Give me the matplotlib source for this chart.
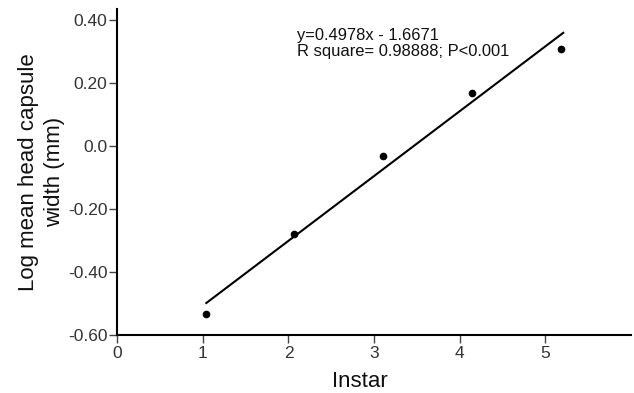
import numpy as np
from matplotlib import pyplot as plt

plt.rcParams['font.family'] = ['Liberation Sans', 'DejaVu Sans']

#%% data
instar = [1.04, 2.07, 3.10, 4.14, 5.18]
log_width = [-0.533, -0.279, -0.032, 0.170, 0.308]
fit_x = [1.04, 5.21]  #extent of the regression line

xticks = [0, 1, 2, 3, 4, 5]
yticks = [0.40, 0.20, 0.0, -0.20, -0.40, -0.60]
ytick_labels = ['0.40', '0.20', '0.0', '-0.20', '-0.40', '-0.60']

#%% regression line from the points
slope, icept = np.polyfit(instar, log_width, 1)
fx = np.array(fit_x)
fy = slope * fx + icept

#%% figure
fig = plt.figure(figsize=(6.34, 3.93), dpi=100)
ax = fig.add_axes([0.185, 0.1476, 0.81, 0.829])

ax.plot(fx, fy, color='black', lw=1.5)
ax.plot(instar, log_width, 'o', color='black', ms=4.5)

ax.set_xlim(0, 6)
ax.set_ylim(-0.60, 0.435)
ax.set_xticks(xticks)
ax.set_yticks(yticks)
ax.set_yticklabels(ytick_labels)

for s in ['top', 'right']:
    ax.spines[s].set_visible(False)
for s in ['left', 'bottom']:
    ax.spines[s].set_linewidth(1.5)
ax.tick_params(direction='out', length=6, width=1, labelsize=12.5,
               colors='#444444', labelcolor='#333333')
ax.tick_params(axis='x', pad=2)
ax.tick_params(axis='y', pad=1)

ax.set_xlabel('Instar', fontsize=16, color='#111111')
ax.xaxis.set_label_coords(0.472, -0.112)
ax.set_ylabel('Log mean head capsule\nwidth (mm)', fontsize=16, color='#111111',
              linespacing=1.35)
ax.yaxis.set_label_coords(-0.101, 0.5)

ax.text(2.10, 0.376, 'y=0.4978x - 1.6671\nR square= 0.98888; P<0.001',
        fontsize=11.9, va='top', ha='left', color='#111111', linespacing=1.1)

fig.savefig('out.png', dpi=100)
